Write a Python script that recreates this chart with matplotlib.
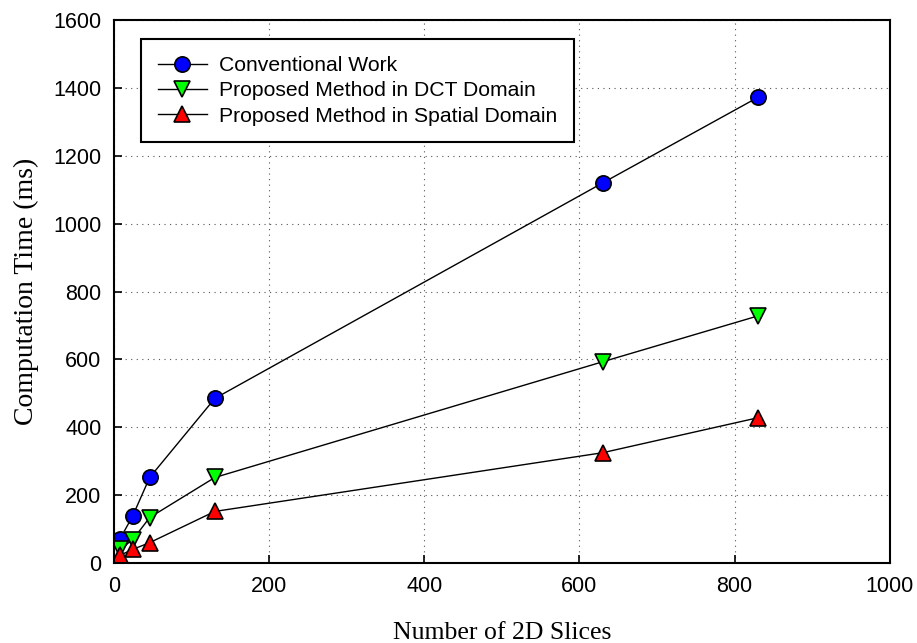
import matplotlib.pyplot as plt

# Computation time vs. number of slices
slices = [8, 24, 46, 130, 630, 830]
conventional = [72, 138, 252, 485, 1120, 1372]
dct_domain = [42, 68, 134, 252, 593, 728]
spatial_domain = [23, 40, 60, 152, 325, 428]

x_ticks = [0, 200, 400, 600, 800, 1000]
y_ticks = [0, 200, 400, 600, 800, 1000, 1200, 1400, 1600]

fig = plt.figure(figsize=(9.17, 6.43), dpi=100)
ax = fig.add_axes([0.1243, 0.1244, 0.846, 0.8445])

style = dict(color='black', linewidth=1.0, markersize=11,
             markeredgecolor='black', markeredgewidth=1.2)
ax.plot(slices, conventional, marker='o', markerfacecolor='#0000ff',
        label='Conventional Work', **style)
ax.plot(slices, dct_domain, marker='v', markerfacecolor='#00ff00',
        label='Proposed Method in DCT Domain', **style)
ax.plot(slices, spatial_domain, marker='^', markerfacecolor='#ff0000',
        label='Proposed Method in Spatial Domain', **style)

ax.set_xlim(0, 1000)
ax.set_ylim(0, 1600)
ax.set_xticks(x_ticks)
ax.set_yticks(y_ticks)
ax.tick_params(direction='in', length=6, width=1.2, labelsize=15.5, pad=9)
for lab in ax.get_xticklabels() + ax.get_yticklabels():
    lab.set_fontfamily('Liberation Sans')
for sp in ax.spines.values():
    sp.set_linewidth(1.5)

ax.grid(True, linestyle=(0, (1, 4)), color='#555555', linewidth=0.8)

ax.set_xlabel('Number of 2D Slices', fontfamily='Liberation Serif',
              fontsize=18.5, labelpad=18)
ax.set_ylabel('Computation Time (ms)', fontfamily='Liberation Serif',
              fontsize=20, labelpad=10)

leg = ax.legend(loc='upper left', bbox_to_anchor=(0.035, 0.965),
                prop={'family': 'Liberation Sans', 'size': 15.2},
                fancybox=False, framealpha=1, edgecolor='black',
                labelspacing=0.3, handlelength=2.3, borderpad=0.8,
                handletextpad=0.6, borderaxespad=0)
leg.get_frame().set_linewidth(1.5)

fig.savefig('out.png', dpi=100)
